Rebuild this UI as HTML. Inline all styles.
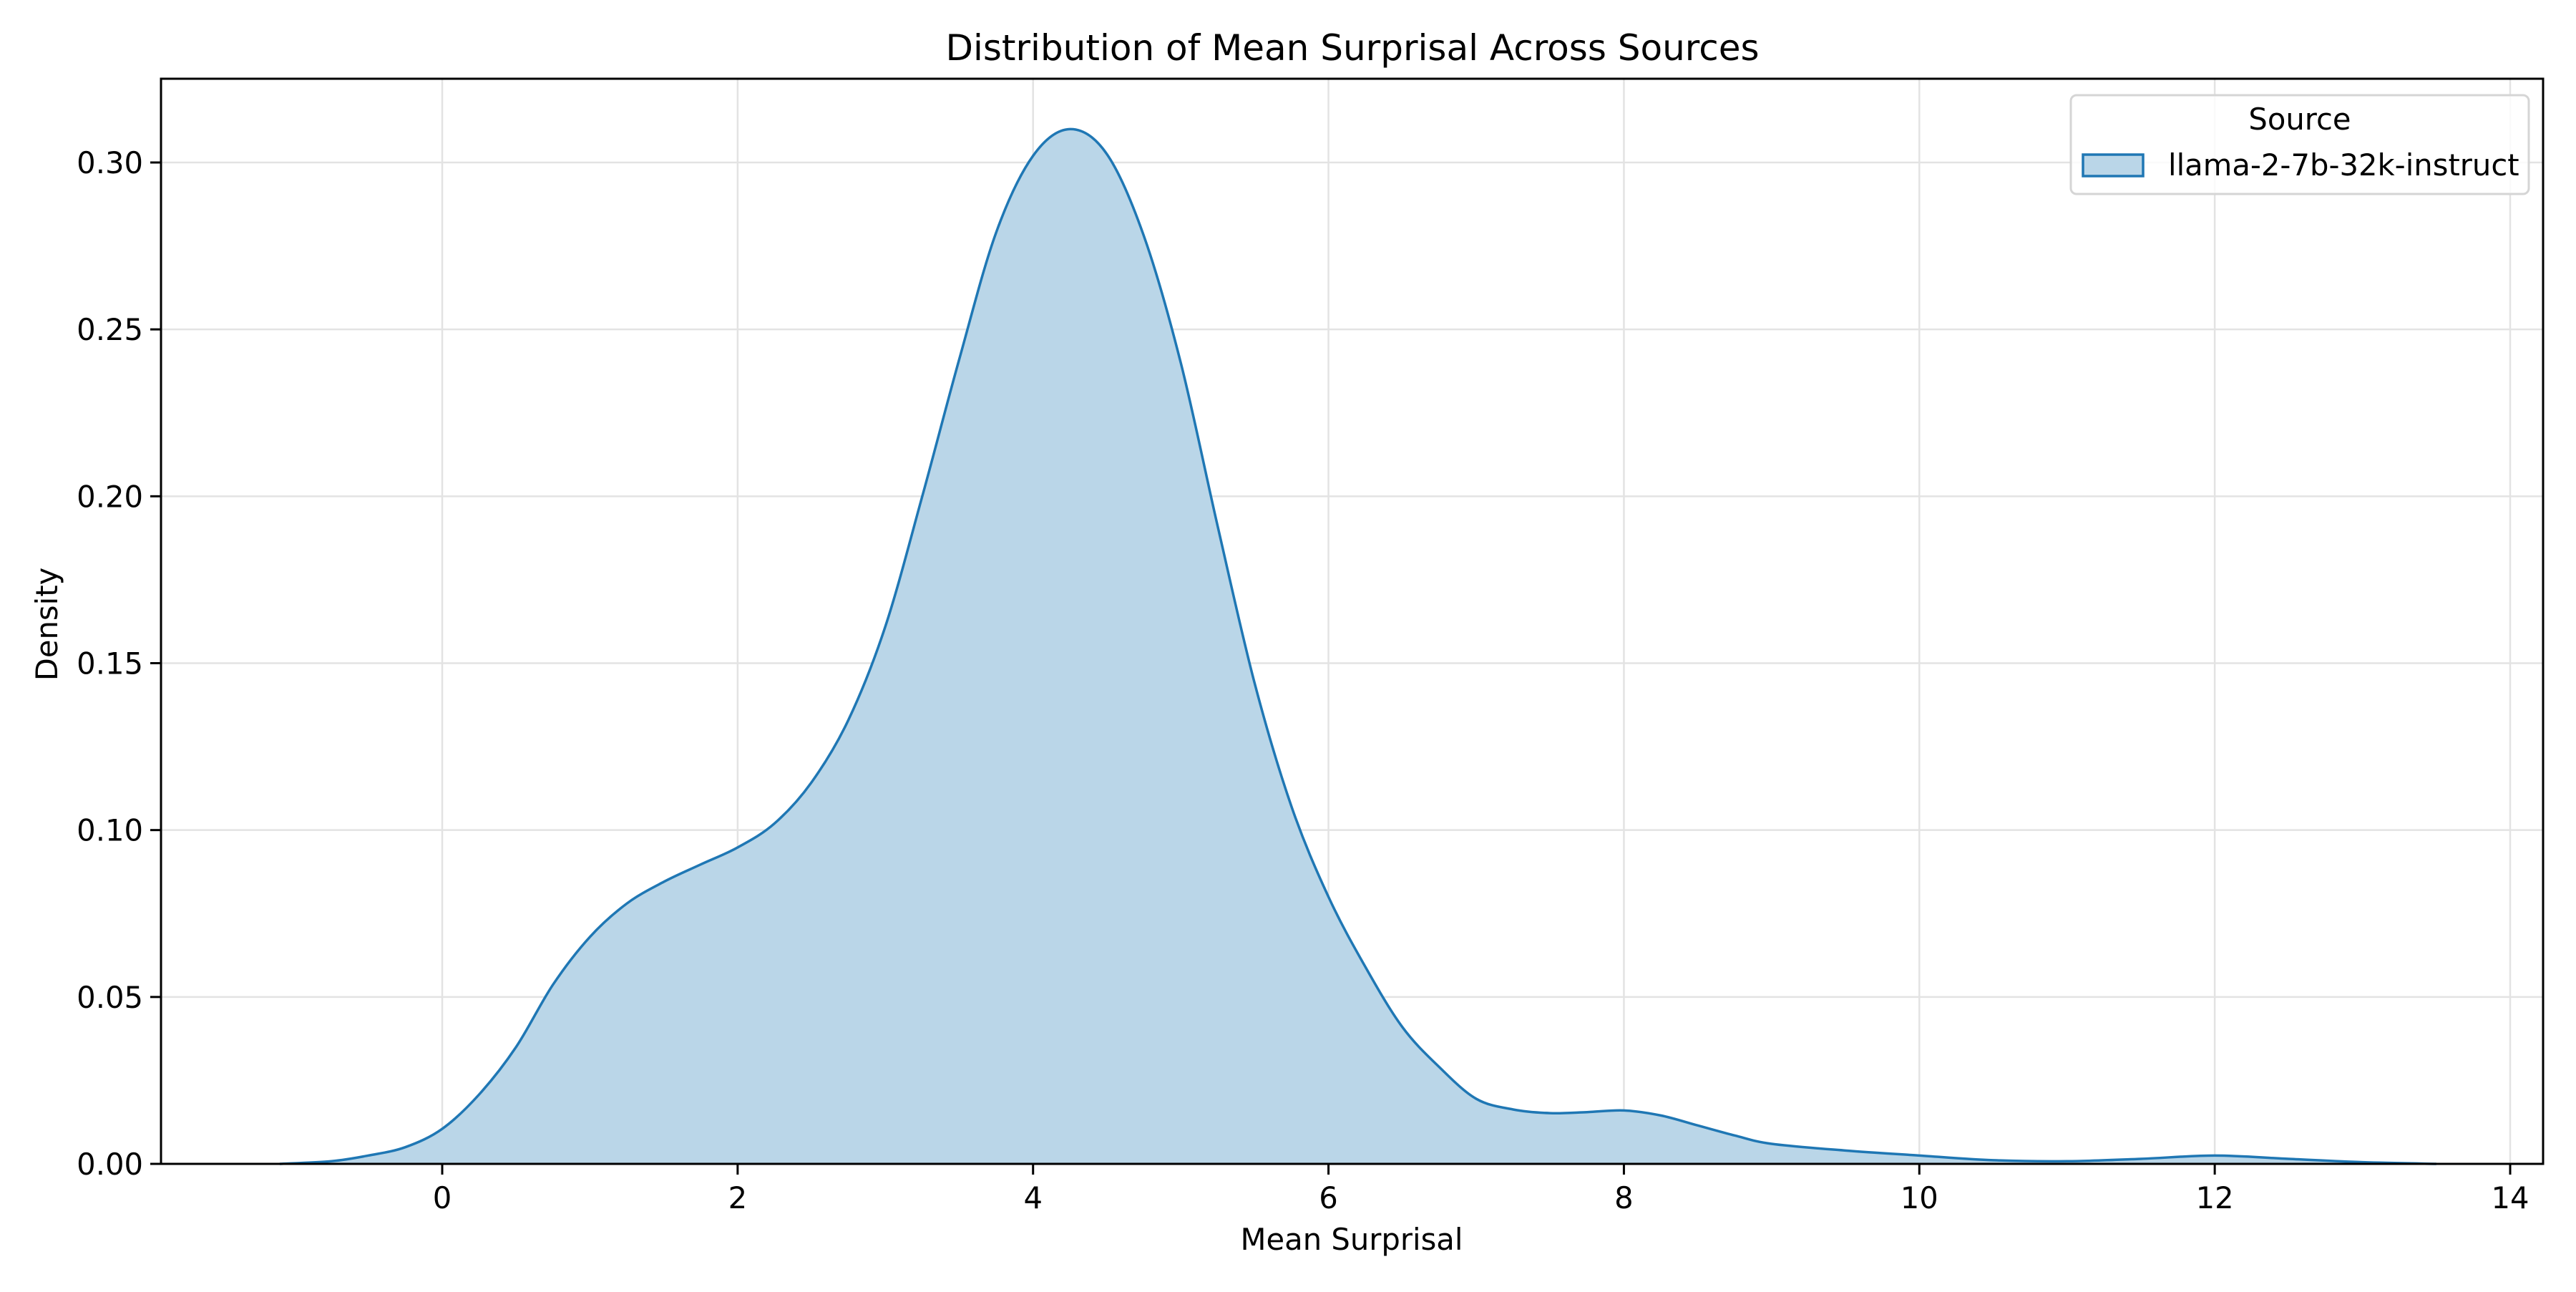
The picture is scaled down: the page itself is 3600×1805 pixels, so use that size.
<!DOCTYPE html>
<html><head><meta charset="utf-8"><style>
html,body{margin:0;padding:0;background:#fff}
svg text{font-family:"DejaVu Sans","Liberation Sans",sans-serif;fill:#000}
</style></head><body>
<svg id="chart" width="3600" height="1800" viewBox="0 0 3600 1800" xmlns="http://www.w3.org/2000/svg">
<rect width="3600" height="1800" fill="#fff"/>
<g id="grid"></g>
<path id="area" fill="#bad6e8" stroke="none"/>
<path id="line" fill="none" stroke="#1f77b4" stroke-width="3.5"/>
<rect x="225" y="110" width="3329" height="1516" fill="none" stroke="#000" stroke-width="3"/>
<g id="ticks"></g>
<text x="1890" y="84" font-size="50" text-anchor="middle">Distribution of Mean Surprisal Across Sources</text>
<text x="1889" y="1746" font-size="41.7" text-anchor="middle">Mean Surprisal</text>
<text x="0" y="0" font-size="41.7" text-anchor="middle" transform="translate(80,872) rotate(-90)">Density</text>
<g>
<rect x="2894" y="133" width="640" height="138" rx="8" fill="#fff" fill-opacity="0.8" stroke="#d5d5d5" stroke-width="3"/>
<text x="3214" y="181" font-size="41.7" text-anchor="middle">Source</text>
<rect x="2911" y="216" width="84" height="30" fill="#bad6e8" stroke="#1f77b4" stroke-width="3.5"/>
<text x="3030" y="245" font-size="41.7">llama-2-7b-32k-instruct</text>
</g>
</svg>
<script>
const xs=[-1.1,-0.75,-0.5,-0.25,0,0.25,0.5,0.75,1,1.25,1.5,1.75,2,2.25,2.5,2.75,3,3.25,3.5,3.75,4,4.25,4.5,4.75,5,5.25,5.5,5.75,6,6.25,6.5,6.75,7,7.25,7.5,7.75,8,8.25,8.5,8.75,9,9.5,10,10.5,11,11.5,12,12.5,13,13.5];
const ys=[0,0.0008,0.0025,0.005,0.0105,0.0208,0.035,0.0537,0.068,0.078,0.0845,0.0897,0.0948,0.102,0.1143,0.133,0.161,0.200,0.241,0.279,0.302,0.310,0.3025,0.278,0.240,0.191,0.144,0.107,0.080,0.059,0.041,0.029,0.0195,0.0163,0.0152,0.0155,0.016,0.0145,0.0115,0.0085,0.006,0.004,0.0025,0.0011,0.0008,0.0015,0.0025,0.0015,0.0005,0];
const xTicks=[0,2,4,6,8,10,12,14];
const yTicks=[0,0.05,0.10,0.15,0.20,0.25,0.30];
const yTickLabels=["0.00","0.05","0.10","0.15","0.20","0.25","0.30"];
const X=v=>618+(v-0)*(3508-618)/14;
const Y=v=>1626-v*(1626-227)/0.30;
const NS="http://www.w3.org/2000/svg";
const grid=document.getElementById('grid'),ticks=document.getElementById('ticks');
function mk(tag,attrs,parent){const e=document.createElementNS(NS,tag);for(const k in attrs)e.setAttribute(k,attrs[k]);parent.appendChild(e);return e;}
xTicks.forEach(t=>{
 const g=mk('line',{x1:X(t),x2:X(t),y1:110,y2:1626,stroke:'#e3e3e3','stroke-width':2.5},grid);
 
 
 const tk=mk('line',{x1:X(t),x2:X(t),y1:1626,y2:1641,stroke:'#000','stroke-width':3},ticks);
 
 
 const tx=mk('text',{x:X(t),y:1688,'font-size':41.7,'text-anchor':'middle'},ticks);
 tx.textContent=t;
 
 
});
yTicks.forEach((t,i)=>{
 const g=mk('line',{x1:225,x2:3554,y1:Y(t),y2:Y(t),stroke:'#e3e3e3','stroke-width':2.5},grid);
 
 
 const tk=mk('line',{x1:210,x2:225,y1:Y(t),y2:Y(t),stroke:'#000','stroke-width':3},ticks);
 
 
 const tx=mk('text',{x:200,y:Y(t)+15,'font-size':41.7,'text-anchor':'end'},ticks);
 tx.textContent=yTickLabels[i];
 
 
});
const P=xs.map((x,i)=>[X(x),Y(ys[i])]);
let d='M'+P[0][0]+','+P[0][1];
for(let i=0;i<P.length-1;i++){
 const p0=P[Math.max(0,i-1)],p1=P[i],p2=P[i+1],p3=P[Math.min(P.length-1,i+2)];
 const c1=[p1[0]+(p2[0]-p0[0])/6,p1[1]+(p2[1]-p0[1])/6];
 const c2=[p2[0]-(p3[0]-p1[0])/6,p2[1]-(p3[1]-p1[1])/6];
 d+=` C${c1[0]},${Math.min(c1[1],1626)} ${c2[0]},${Math.min(c2[1],1626)} ${p2[0]},${p2[1]}`;
}
document.getElementById('line').setAttribute('d',d);
document.getElementById('area').setAttribute('d',d+` L${P[P.length-1][0]},${Y(0)} L${P[0][0]},${Y(0)} Z`);
</script>
</body></html>
